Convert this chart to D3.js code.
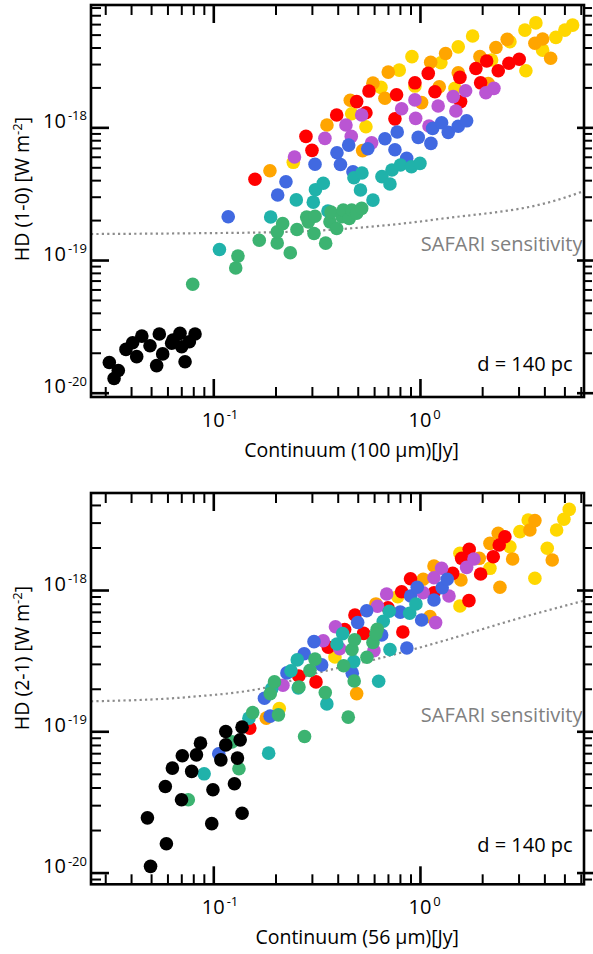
<!DOCTYPE html>
<html><head><meta charset="utf-8">
<script src="https://cdn.jsdelivr.net/npm/d3@7"></script>
<style>body{margin:0;background:#fff} svg{display:block}</style>
</head><body>
<svg id="chart" width="593" height="954"></svg>
<script>
// ---------- DATA: [continuum (Jy), HD flux (W m^-2)] ----------
// Top panel: HD (1-0) vs 100 um continuum
const top_black = [[0.0314,1.69e-20],[0.0331,1.28e-20],[0.0347,1.47e-20],[0.0378,2.12e-20],[0.0407,2.38e-20],[0.0426,1.87e-20],[0.0451,2.67e-20],[0.0494,2.26e-20],[0.0532,1.60e-20],[0.0548,2.77e-20],[0.0569,1.96e-20],[0.0629,2.36e-20],[0.0690,2.80e-20],[0.0703,2.22e-20],[0.0730,1.71e-20],[0.0766,2.42e-20],[0.0816,2.77e-20],[0.0638,2.49e-20]];
const top_green = [[0.0795,6.56e-20],[0.1284,8.70e-20],[0.1316,1.07e-19],[0.1669,1.41e-19],[0.2039,1.345e-19],[0.2039,1.63e-19],[0.2166,1.88e-19],[0.2358,1.135e-19],[0.2540,1.70e-19],[0.2831,2.11e-19],[0.2882,1.94e-19],[0.3071,1.586e-19],[0.3106,2.14e-19],[0.3497,1.34e-19],[0.3669,1.94e-19],[0.3710,2.30e-19],[0.3954,1.73e-19],[0.4194,2.12e-19],[0.4255,2.38e-19],[0.4549,2.06e-19],[0.4673,2.38e-19],[0.4941,2.25e-19],[0.5223,2.45e-19]];
const top_teal = [[0.1071,1.20e-19],[0.1895,2.11e-19],[0.2521,2.84e-19],[0.3047,2.73e-19],[0.3122,3.39e-19],[0.3405,3.79e-19],[0.3588,2.34e-19],[0.4794,4.17e-19],[0.5154,3.37e-19],[0.5240,4.53e-19],[0.5924,2.83e-19],[0.6548,4.25e-19],[0.7159,3.74e-19],[0.7320,4.77e-19],[0.8047,5.20e-19],[0.9096,5.05e-19],[1.000,5.35e-19]];
const top_blue = [[0.1181,2.12e-19],[0.2049,3.09e-19],[0.2247,3.89e-19],[0.3106,5.27e-19],[0.3967,6.43e-19],[0.4125,5.25e-19],[0.4520,7.35e-19],[0.4741,4.63e-19],[0.5592,6.89e-19],[0.6769,8.20e-19],[0.7568,6.78e-19],[0.7763,9.22e-19],[0.8624,5.84e-19],[0.981,8.40e-19],[1.130,7.57e-19],[1.152,9.82e-19],[1.273,1.083e-18],[1.371,9.17e-19],[1.532,1.02e-18],[1.682,1.12e-18]];
const top_purple = [[0.2471,5.98e-19],[0.3469,8.26e-19],[0.4384,1.041e-18],[0.4652,8.55e-19],[0.5223,1.238e-18],[0.5838,7.64e-19],[0.8155,1.381e-18],[0.9456,1.61e-18],[0.9532,1.169e-18],[1.106,1.023e-18],[1.225,1.447e-18],[1.449,1.705e-18],[1.492,1.327e-18],[1.663,1.887e-18],[2.085,1.822e-18],[2.280,1.967e-18]];
const top_red = [[0.1591,4.06e-19],[0.2808,8.55e-19],[0.3003,6.71e-19],[0.3954,1.238e-18],[0.4941,1.563e-18],[0.5477,1.288e-18],[0.5666,1.877e-18],[0.7568,1.159e-18],[0.7705,1.761e-18],[0.9456,2.166e-18],[1.097,2.55e-18],[1.182,1.855e-18],[1.561,2.379e-18],[1.573,1.563e-18],[1.865,2.78e-18],[1.966,2.166e-18],[2.103,3.165e-18],[2.392,2.668e-18],[2.695,3.04e-18],[3.022,3.26e-18]];
const top_orange = [[0.1880,4.71e-19],[0.3548,1.041e-18],[0.4600,1.60e-18],[0.5280,6.68e-19],[0.5924,2.154e-18],[0.6769,1.658e-18],[0.7024,2.608e-18],[1.019,1.536e-18],[1.127,3.094e-18],[1.240,2.023e-18],[1.331,3.606e-18],[1.532,2.576e-18],[1.951,3.410e-18],[2.140,2.143e-18],[2.331,4.00e-18],[2.643,4.605e-18],[3.599,4.30e-18],[3.922,4.63e-18],[4.289,3.316e-18]];
const top_gold = [[0.2438,5.45e-19],[0.4673,1.266e-18],[0.5477,1.010e-18],[0.6476,2.00e-18],[0.7940,2.70e-18],[0.9147,3.41e-18],[0.9456,2.047e-18],[1.263,3.07e-18],[1.477,1.967e-18],[1.532,4.045e-18],[1.798,4.88e-18],[2.222,3.22e-18],[2.725,4.42e-18],[3.220,5.41e-18],[3.256,2.668e-18],[3.639,6.13e-18],[3.922,3.82e-18],[4.547,4.77e-18],[5.027,5.41e-18],[5.479,5.90e-18]];
const top_sensitivity = [[0.0256,1.57e-19],[0.0771,1.59e-19],[0.235,1.63e-19],[0.4585,1.73e-19],[0.8946,1.91e-19],[1.249,2.04e-19],[4.6,2.83e-19],[6.22,3.31e-19]];

// Bottom panel: HD (2-1) vs 56 um continuum
const bot_black = [[0.0497,1.107e-20],[0.0480,2.44e-20],[0.0593,1.60e-20],[0.0586,4.07e-20],[0.0634,5.49e-20],[0.0702,3.28e-20],[0.0708,6.71e-20],[0.0786,5.20e-20],[0.0829,6.81e-20],[0.0867,8.24e-20],[0.0983,2.22e-20],[0.0996,3.86e-20],[0.1088,6.28e-20],[0.1149,8.01e-20],[0.1149,9.96e-20],[0.1266,4.25e-20],[0.1309,6.46e-20],[0.1349,8.70e-20],[0.1378,1.070e-19],[0.1378,2.63e-20]];
const bot_green = [[0.0757,3.28e-20],[0.1231,8.42e-20],[0.1331,5.43e-20],[0.1551,1.356e-19],[0.2067,1.307e-19],[0.1886,1.847e-19],[0.1977,2.236e-19],[0.2598,2.06e-19],[0.2765,9.18e-20],[0.2937,2.70e-19],[0.3106,3.24e-19],[0.3482,1.878e-19],[0.4274,2.91e-19],[0.4498,1.259e-19],[0.4688,3.79e-19],[0.4827,4.45e-19],[0.4806,2.27e-19],[0.5540,3.34e-19],[0.5924,4.25e-19],[0.6212,5.27e-19],[0.6122,4.88e-19]];
const bot_teal = [[0.0903,5.00e-20],[0.1488,1.239e-19],[0.1853,7.00e-20],[0.1916,1.995e-19],[0.2376,2.68e-19],[0.2577,2.03e-19],[0.2549,3.20e-19],[0.3544,1.563e-19],[0.3967,4.15e-19],[0.4227,4.91e-19],[0.4784,3.11e-19],[0.6313,2.26e-19],[0.6644,6.01e-19],[0.7103,7.08e-19],[0.7159,3.79e-19],[0.8916,6.84e-19],[0.9563,7.97e-19]];
const bot_blue = [[0.1063,6.93e-20],[0.1768,1.715e-19],[0.1884,1.280e-19],[0.2272,2.59e-19],[0.2753,3.54e-19],[0.3071,4.31e-19],[0.3344,2.95e-19],[0.4704,2.58e-19],[0.4997,5.89e-19],[0.5523,7.13e-19],[0.6526,4.80e-19],[0.8029,6.97e-19],[0.8642,3.89e-19],[0.9016,9.07e-19],[0.970,1.045e-18],[1.019,6.14e-19],[1.169,8.50e-19],[1.281,1.038e-18],[1.355,1.191e-18]];
const bot_purple = [[0.2173,2.12e-19],[0.3405,4.37e-19],[0.3901,5.50e-19],[0.4088,3.85e-19],[0.5990,3.72e-19],[0.6229,7.67e-19],[0.6901,9.37e-19],[1.037,9.57e-19],[1.169,1.222e-18],[1.191,5.88e-19],[1.273,1.424e-18],[1.382,9.07e-19],[1.682,1.447e-18],[1.825,1.657e-18]];
const bot_red = [[0.1502,1.053e-19],[0.2592,2.46e-19],[0.3140,2.236e-19],[0.3600,3.93e-19],[0.4323,5.25e-19],[0.4847,6.66e-19],[0.5341,4.93e-19],[0.7001,7.49e-19],[0.8155,9.73e-19],[0.8265,5.04e-19],[0.9003,1.202e-18],[1.169,9.57e-19],[1.440,1.312e-18],[1.591,1.676e-18],[1.731,1.941e-18],[1.726,8.41e-19],[1.966,1.298e-18],[2.263,1.720e-18],[2.419,2.084e-18],[2.577,2.384e-18]];
const bot_orange = [[0.1805,1.239e-19],[0.4941,1.849e-19],[0.6122,7.97e-19],[1.037,1.191e-18],[1.118,6.48e-19],[1.169,1.478e-18],[1.579,1.177e-18],[1.936,1.676e-18],[2.181,2.140e-18],[2.392,2.52e-18],[2.438,1.045e-18],[2.808,1.657e-18],[3.405,2.66e-18],[3.599,3.10e-18],[4.366,1.63e-18]];
const bot_gold = [[0.2086,1.447e-19],[0.3878,3.36e-19],[0.7810,8.97e-19],[1.561,1.818e-18],[1.561,7.70e-19],[2.181,1.424e-18],[2.725,2.026e-18],[3.046,2.59e-18],[3.340,3.13e-18],[3.599,1.210e-18],[4.130,1.974e-18],[4.585,2.66e-18],[4.973,3.165e-18],[5.276,3.72e-18]];
const bot_sensitivity = [[0.0256,1.63e-19],[0.077,1.75e-19],[0.188,2.07e-19],[0.3036,2.54e-19],[0.6404,3.29e-19],[1.345,4.43e-19],[2.827,6.14e-19],[6.22,8.4e-19]];

// Tick labels
const xMajorTicks = [0.1, 1];
const xMajorLabels = ["-1", "0"];
const yMajorTicks = [1e-20, 1e-19, 1e-18];
const yMajorLabels = ["-20", "-19", "-18"];

// Series drawing order and colours
const seriesNames = ["gold", "orange", "red", "purple", "blue", "teal", "green", "black"];
const seriesColors = {gold:"#ffd700", orange:"#ffa500", red:"#ff0000", purple:"#ba55d3", blue:"#4169e1", teal:"#20b2aa", green:"#3cb371", black:"#000000"};

const topSeries = {gold:top_gold, orange:top_orange, red:top_red, purple:top_purple, blue:top_blue, teal:top_teal, green:top_green, black:top_black};
const botSeries = {gold:bot_gold, orange:bot_orange, red:bot_red, purple:bot_purple, blue:bot_blue, teal:bot_teal, green:bot_green, black:bot_black};

// ---------- LAYOUT ----------
const FONT = "'Open Sans', 'DejaVu Sans', sans-serif";
const left = 91, right = 584;
const xDomain = [0.0256, 6.22];

const panels = [
  {top:5, bottom:397, yDomain:[9.28e-21, 8.36e-18], series:topSeries, sens:top_sensitivity,
   ytitle:"HD (1-0) [W m", ytitleY:189, xtitle:"Continuum (100 µm)[Jy]", dY:370.5, safY:250.5},
  {top:493, bottom:884.3, yDomain:[8.26e-21, 4.86e-18], series:botSeries, sens:bot_sensitivity,
   ytitle:"HD (2-1) [W m", ytitleY:658, xtitle:"Continuum (56 µm)[Jy]", dY:851.5, safY:721.5}
];

const svg = d3.select("#chart");

panels.forEach(p => {
  const x = d3.scaleLog().domain(xDomain).range([left, right]);
  const y = d3.scaleLog().domain(p.yDomain).range([p.bottom, p.top]);
  const g = svg.append("g");

  // sensitivity curve
  const line = d3.line().x(d => x(d[0])).y(d => y(d[1])).curve(d3.curveMonotoneX);
  g.append("path").datum(p.sens).attr("d", line)
    .attr("fill", "none").attr("stroke", "#8c8c8c").attr("stroke-width", 2.2)
    .attr("stroke-dasharray", "2.2,3.2");

  // points
  seriesNames.forEach(name => {
    g.append("g").selectAll("circle").data(p.series[name]).join("circle")
      .attr("cx", d => x(d[0])).attr("cy", d => y(d[1])).attr("r", 6.8)
      .attr("fill", seriesColors[name]);
  });

  // ticks
  const xMinor = x.ticks(20).filter(v => !xMajorTicks.some(m => Math.abs(m - v) / m < 1e-6));
  const yMinor = y.ticks(30).filter(v => !yMajorTicks.some(m => Math.abs(m - v) / m < 1e-6));

  const styleAxis = (sel, w) => {
    sel.select(".domain").remove();
    sel.selectAll("line").attr("stroke", "#000").attr("stroke-width", w);
    sel.selectAll("text").remove();
  };
  const addAxis = (axis, tr, w) => g.append("g").attr("transform", tr).call(axis).call(s => styleAxis(s, w));

  addAxis(d3.axisBottom(x).tickValues(xMinor).tickSize(-10), `translate(0,${p.bottom})`, 2);
  addAxis(d3.axisBottom(x).tickValues(xMajorTicks).tickSize(-18), `translate(0,${p.bottom})`, 2.6);
  addAxis(d3.axisTop(x).tickValues(xMinor).tickSize(-10), `translate(0,${p.top})`, 2);
  addAxis(d3.axisTop(x).tickValues(xMajorTicks).tickSize(-18), `translate(0,${p.top})`, 2.6);
  addAxis(d3.axisLeft(y).tickValues(yMinor).tickSize(-10), `translate(${left},0)`, 2);
  addAxis(d3.axisLeft(y).tickValues(yMajorTicks).tickSize(-18), `translate(${left},0)`, 2.6);
  addAxis(d3.axisRight(y).tickValues(yMinor).tickSize(8), `translate(${right},0)`, 2);
  addAxis(d3.axisRight(y).tickValues(yMajorTicks).tickSize(9), `translate(${right},0)`, 2.6);
  addAxis(d3.axisRight(y).tickValues(yMajorTicks).tickSize(-7), `translate(${right},0)`, 2.6);

  // frame
  g.append("rect").attr("x", left).attr("y", p.top).attr("width", right - left).attr("height", p.bottom - p.top)
    .attr("fill", "none").attr("stroke", "#000").attr("stroke-width", 2.6);

  // x tick labels
  xMajorTicks.forEach((v, i) => {
    const t = g.append("text").attr("x", x(v) - 11.5).attr("y", p.bottom + 29.5)
      .attr("font-family", FONT).attr("font-size", 20).attr("fill", "#000").text("10");
    t.append("tspan").attr("dy", -7.5).attr("font-size", 13).attr("dx", 2).text(xMajorLabels[i]);
  });
  // y tick labels
  yMajorTicks.forEach((v, i) => {
    const t = g.append("text").attr("x", 87).attr("y", y(v) + 0.5).attr("text-anchor", "end")
      .attr("font-family", FONT).attr("font-size", 20).attr("fill", "#000").text("10");
    t.append("tspan").attr("dy", -7.5).attr("font-size", 13).attr("dx", 2).text(yMajorLabels[i]);
  });

  // axis titles
  g.append("text").attr("x", 459).attr("y", p.bottom + 59.5).attr("text-anchor", "end")
    .attr("font-family", FONT).attr("font-size", 19.5).attr("fill", "#000").text(p.xtitle);
  const yt = g.append("text").attr("transform", `translate(29,${p.ytitleY}) rotate(-90)`)
    .attr("text-anchor", "middle").attr("font-family", FONT).attr("font-size", 19.5).attr("fill", "#000")
    .text(p.ytitle);
  yt.append("tspan").attr("dy", -7.5).attr("font-size", 13).text("-2");
  yt.append("tspan").attr("dy", 7.5).text("]");

  // annotations
  g.append("text").attr("x", 572.7).attr("y", p.dY).attr("text-anchor", "end")
    .attr("font-family", FONT).attr("font-size", 20).attr("fill", "#000").text("d = 140 pc");
  g.append("text").attr("x", 582.5).attr("y", p.safY).attr("text-anchor", "end")
    .attr("font-family", FONT).attr("font-size", 20).attr("fill", "#808080").text("SAFARI sensitivity");
});
</script>
</body></html>
